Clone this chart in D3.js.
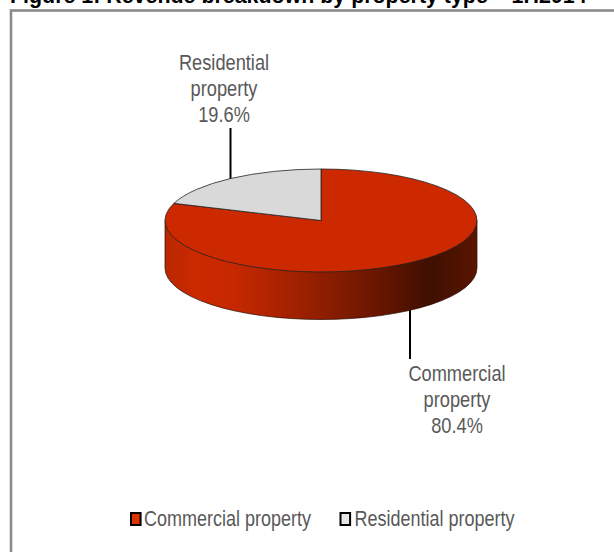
<!DOCTYPE html>
<html><head><meta charset="utf-8">
<script src="https://cdn.jsdelivr.net/npm/d3@7"></script>
<style>html,body{margin:0;padding:0;background:#fff;overflow:hidden}svg{display:block}</style>
</head><body><svg id="c" width="614" height="552"></svg>
<script>
const categories = ["Commercial property", "Residential property"];
const values = [80.4, 19.6];
const colors = ["#cc2900", "#d9d9d9"];
const legendFill = ["#dd3300", "#e6e6e6"];
const labelLines = [["Commercial","property","80.4%"],["Residential","property","19.6%"]];
const titleText = "Figure 1: Revenue breakdown by property type – 1H2014";

const svg = d3.select("#c");
const cx = 321, cy = 220.5, rx = 156, ry = 51.5, depth = 47.5;
const font = "'Liberation Sans', Arial, sans-serif";
const squeeze = 0.81, bodySize = 22.5;

svg.append("text").attr("x", 10).attr("y", 3).attr("font-family", font)
  .attr("font-weight", "bold").attr("font-size", 21.4).attr("fill", "#000").text(titleText);
svg.append("rect").attr("x", 11).attr("y", 10.5).attr("width", 640).attr("height", 580)
  .attr("fill", "#fff").attr("stroke", "#8a8a8a").attr("stroke-width", 2.6);

const defs = svg.append("defs");
const grad = defs.append("linearGradient").attr("id", "side")
  .attr("gradientUnits", "userSpaceOnUse").attr("x1", cx - rx).attr("x2", cx + rx).attr("y1", 0).attr("y2", 0);
[[0,"#b82800"],[0.1,"#cc2900"],[0.22,"#c62800"],[0.45,"#9a2000"],[0.7,"#641500"],[0.85,"#3f0f00"],[1,"#5a1500"]]
  .forEach(([o,c]) => grad.append("stop").attr("offset", o).attr("stop-color", c));

const leader = svg.append("g").attr("stroke", "#000").attr("stroke-width", 2);
leader.append("line").attr("x1", 230.5).attr("x2", 230.5).attr("y1", 128).attr("y2", 180);
leader.append("line").attr("x1", 410).attr("x2", 410).attr("y1", 308).attr("y2", 359);

const pie = d3.pie().sort(null).value(d => d).startAngle(0).endAngle(2 * Math.PI);
const arcs = pie(values);
const arc = d3.arc().innerRadius(0).outerRadius(rx);
const sy = ry / rx;

svg.append("path")
  .attr("d", `M${cx - rx},${cy}V${cy + depth}A${rx},${ry} 0 0 0 ${cx + rx},${cy + depth}V${cy}Z`)
  .attr("fill", "url(#side)").attr("stroke", "#2a0a00").attr("stroke-width", 0.7);

svg.append("g").attr("transform", `translate(${cx},${cy}) scale(1,${sy})`)
  .selectAll("path").data(arcs).join("path")
  .attr("d", arc).attr("fill", (d, i) => colors[i])
  .attr("stroke", "#222").attr("stroke-width", 0.8).attr("vector-effect", "non-scaling-stroke");

const labelPos = [[457, 381], [224, 70]];
labelLines.forEach((lines, i) => {
  lines.forEach((s, j) => svg.append("text").attr("text-anchor", "middle")
    .attr("font-family", font).attr("font-size", bodySize).attr("fill", "#595959")
    .attr("transform", `translate(${labelPos[i][0]},${labelPos[i][1] + j * 26}) scale(${squeeze},1)`)
    .text(s));
});

const lx = [131, 340.5];
const tx = [144, 354.5];
categories.forEach((c, i) => {
  svg.append("rect").attr("x", lx[i]).attr("y", 513).attr("width", 9.6).attr("height", 12)
    .attr("fill", legendFill[i]).attr("stroke", "#000").attr("stroke-width", 2);
  svg.append("text").attr("font-family", font).attr("font-size", bodySize).attr("fill", "#595959")
    .attr("transform", `translate(${tx[i]},526) scale(0.8,1)`).text(c);
});
</script></body></html>
